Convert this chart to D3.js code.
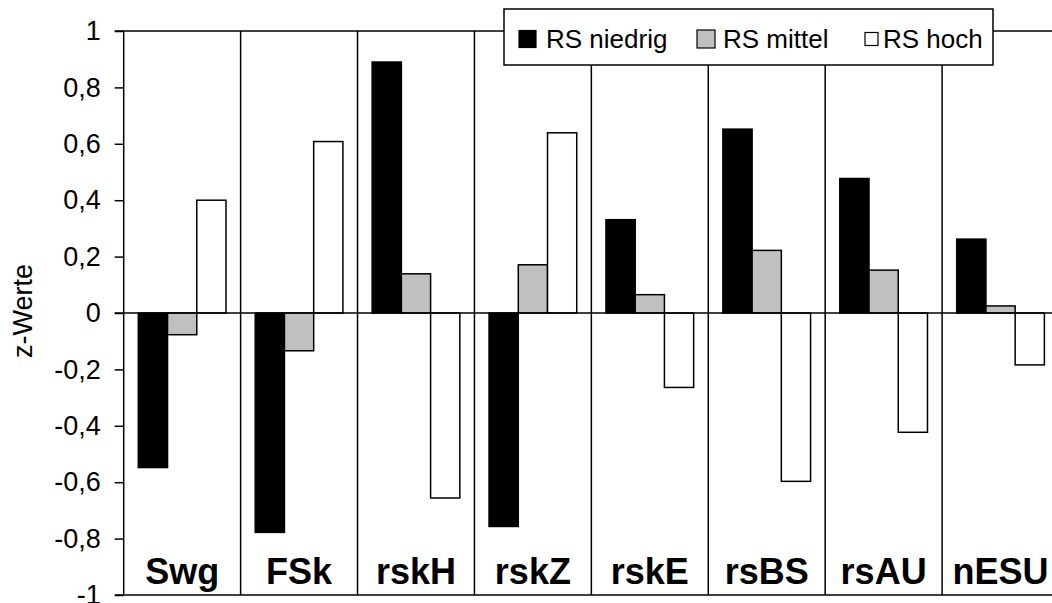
<!DOCTYPE html>
<meta charset="utf-8">
<style>
  body { margin: 0; background: #fff; }
  text { font-family: "Liberation Sans", Arial, sans-serif; }
</style>
<body>
<script src="https://d3js.org/d3.v7.min.js"></script>
<div id="chart"></div>
<script>

// categories and series
const categories = ["Swg", "FSk", "rskH", "rskZ", "rskE", "rsBS", "rsAU", "nESU"];
const seriesNames = ["RS niedrig", "RS mittel", "RS hoch"];
const rsNiedrig = [-0.548, -0.778, 0.890, -0.757, 0.331, 0.652, 0.477, 0.262];
const rsMittel  = [-0.077, -0.134, 0.139, 0.171, 0.065, 0.222, 0.152, 0.025];
const rsHoch    = [0.400, 0.608, -0.656, 0.639, -0.264, -0.597, -0.423, -0.184];
const yTicks = [-1, -0.8, -0.6, -0.4, -0.2, 0, 0.2, 0.4, 0.6, 0.8, 1];

const fills = ["#000000", "#c0c0c0", "#ffffff"];
const allSeries = [rsNiedrig, rsMittel, rsHoch];

const W = 1052, H = 603;
const plotLeft = 123.7, plotRight = 1059, plotTop = 31, plotBottom = 595;

const svg = d3.select("#chart")
  .append("svg")
    .attr("width", W)
    .attr("height", H);

const x = d3.scaleBand()
  .domain(categories)
  .range([plotLeft, plotRight])
  .paddingInner(0)
  .paddingOuter(0);

const bw = x.bandwidth() / 4;   // gap width 100%

const y = d3.scaleLinear()
  .domain([-1, 1])
  .range([plotBottom, plotTop]);

const de = d3.formatLocale({decimal: ",", thousands: ".", grouping: [3], currency: ["", "€"], minus: "-"});
const fmt = de.format("~g");

// y axis
const yAxis = d3.axisLeft(y)
  .tickValues(yTicks)
  .tickSize(9)
  .tickPadding(14)
  .tickFormat(d => fmt(+d.toFixed(1)));

const yAxisG = svg.append("g")
  .attr("transform", `translate(${plotLeft},0)`)
  .call(yAxis);
yAxisG.select(".domain").remove();
yAxisG.selectAll("line").attr("stroke", "#000").attr("stroke-width", 1.5);
yAxisG.selectAll("text")
  .attr("font-size", "27px")
  .attr("font-family", "Liberation Sans, Arial, sans-serif")
  .attr("fill", "#000");

// frame: left, top, bottom lines and category dividers
svg.append("line")
  .attr("x1", plotLeft).attr("x2", plotLeft)
  .attr("y1", plotTop).attr("y2", plotBottom)
  .attr("stroke", "#000").attr("stroke-width", 1.5);
svg.append("line")
  .attr("x1", plotLeft - 9).attr("x2", plotRight)
  .attr("y1", y(1)).attr("y2", y(1))
  .attr("stroke", "#000").attr("stroke-width", 1.5);
svg.append("line")
  .attr("x1", plotLeft - 9).attr("x2", plotRight)
  .attr("y1", y(-1)).attr("y2", y(-1))
  .attr("stroke", "#000").attr("stroke-width", 1.5);

svg.selectAll(".divider")
  .data(categories.slice(1))
  .enter()
  .append("line")
    .attr("class", "divider")
    .attr("x1", d => x(d)).attr("x2", d => x(d))
    .attr("y1", plotTop).attr("y2", plotBottom)
    .attr("stroke", "#000").attr("stroke-width", 1.5);

// bars
allSeries.forEach(function(vals, s) {
  svg.append("g")
    .selectAll("rect")
    .data(vals)
    .enter()
    .append("rect")
      .attr("x", (d, i) => x(categories[i]) + bw / 2 + s * bw)
      .attr("width", bw)
      .attr("y", d => y(Math.max(0, d)))
      .attr("height", d => Math.abs(y(d) - y(0)))
      .attr("fill", fills[s])
      .attr("stroke", "#000")
      .attr("stroke-width", 1.5);
});

// zero line
svg.append("line")
  .attr("x1", plotLeft - 9).attr("x2", plotRight)
  .attr("y1", y(0)).attr("y2", y(0))
  .attr("stroke", "#000").attr("stroke-width", 1.5);

// category labels inside the plot, near the bottom
svg.selectAll(".cat")
  .data(categories)
  .enter()
  .append("text")
    .attr("class", "cat")
    .attr("x", d => x(d) + x.bandwidth() / 2)
    .attr("y", 584)
    .attr("text-anchor", "middle")
    .attr("font-size", "36px")
    .attr("font-weight", "bold")
    .text(d => d);

// y axis title
svg.append("text")
  .attr("transform", `translate(32,311) rotate(-90)`)
  .attr("text-anchor", "middle")
  .attr("font-size", "27px")
  .text("z-Werte");

// legend
const legend = svg.append("g");
legend.append("rect")
  .attr("x", 504).attr("y", 9)
  .attr("width", 489).attr("height", 56)
  .attr("fill", "#fff")
  .attr("stroke", "#000")
  .attr("stroke-width", 1.5);

const legKeyX = [519, 697, 865];
const legKeySize = [17, 18, 13];
const legTextX = [546, 723, 883];
seriesNames.forEach(function(name, s) {
  legend.append("rect")
    .attr("x", legKeyX[s]).attr("y", 39 - legKeySize[s] / 2)
    .attr("width", legKeySize[s]).attr("height", legKeySize[s])
    .attr("fill", fills[s])
    .attr("stroke", "#000")
    .attr("stroke-width", 1.2);
  legend.append("text")
    .attr("x", legTextX[s])
    .attr("y", 48)
    .attr("font-size", "26px")
    .text(name);
});

</script>
</body>
